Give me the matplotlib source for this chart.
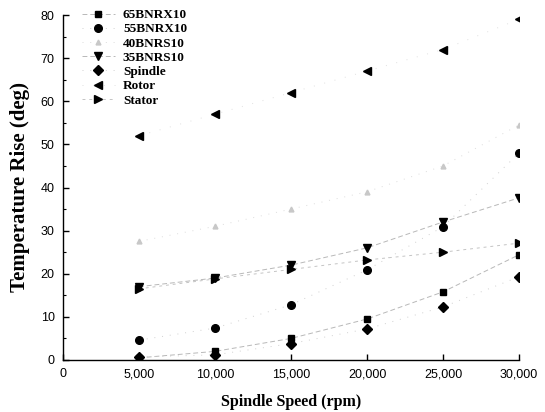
import matplotlib
matplotlib.use("Agg")
import matplotlib.pyplot as plt
from matplotlib.ticker import MultipleLocator, FuncFormatter

speed = [5000, 10000, 15000, 20000, 25000, 30000]
s65BNRX10 = [0.5, 2.0, 5.0, 9.5, 15.8, 24.4]
s55BNRX10 = [4.6, 7.4, 12.8, 20.9, 30.9, 48.0]
s40BNRS10 = [27.5, 31.0, 35.0, 39.0, 45.0, 54.5]
s35BNRS10 = [17.0, 19.0, 22.0, 26.0, 32.0, 37.6]
spindle = [0.7, 1.2, 3.8, 7.2, 12.3, 19.3]
rotor = [52.0, 57.0, 62.0, 67.0, 72.0, 79.0]
stator = [16.5, 18.8, 21.0, 23.2, 25.0, 27.1]

series = [
    ("65BNRX10", s65BNRX10, "s", "black", (0, (5, 3)), "#b8b8b8", 5),
    ("55BNRX10", s55BNRX10, "o", "black", (0, (1, 7)), "#d0d0d0", 5.5),
    ("40BNRS10", s40BNRS10, "^", "#c8c8c8", (0, (1, 7)), "#dcdcdc", 3.5),
    ("35BNRS10", s35BNRS10, "v", "black", (0, (5, 3)), "#b8b8b8", 6),
    ("Spindle", spindle, "D", "black", (0, (1, 7)), "#d0d0d0", 5),
    ("Rotor", rotor, "<", "black", (0, (1, 10)), "#e0e0e0", 6),
    ("Stator", stator, ">", "black", (0, (3, 4)), "#c4c4c4", 6),
]

fig = plt.figure(figsize=(5.45, 4.12), dpi=100)
ax = fig.add_axes([63/545, 1-360/412, (519-63)/545, (360-15)/412])

for name, vals, mk, col, ls, lc, ms in series:
    ax.plot(speed, vals, linestyle=ls, color=lc, linewidth=0.7,
            marker=mk, markersize=ms, markerfacecolor=col,
            markeredgecolor=col, label=name)

ax.set_xlim(0, 30000)
ax.set_ylim(0, 80)
ax.xaxis.set_major_locator(MultipleLocator(5000))
ax.yaxis.set_major_locator(MultipleLocator(10))
ax.yaxis.set_minor_locator(MultipleLocator(5))
ax.xaxis.set_major_formatter(FuncFormatter(lambda v, p: f"{int(v):,}"))
ax.spines["top"].set_visible(False)
ax.spines["right"].set_visible(False)
ax.spines["left"].set_linewidth(1.0)
ax.spines["bottom"].set_linewidth(1.0)
ax.tick_params(which="major", direction="in", length=4, width=1,
               labelsize=9, pad=6)
ax.tick_params(which="minor", direction="in", length=2, width=0.8)
for lab in ax.get_xticklabels() + ax.get_yticklabels():
    lab.set_family("Liberation Sans")

ax.set_xlabel("Spindle Speed (rpm)", family="Liberation Serif",
              fontweight="bold", fontsize=11.5, labelpad=10)
ax.set_ylabel("Temperature Rise (deg)", family="Liberation Serif",
              fontweight="bold", fontsize=15, labelpad=8)

leg = ax.legend(loc="upper left", bbox_to_anchor=(82/545, 1-9/412),
                bbox_transform=fig.transFigure, frameon=False,
                prop={"family": "Liberation Serif", "weight": "bold",
                      "size": 9.5},
                handlelength=2.5, handletextpad=0.6, labelspacing=0.15,
                borderpad=0, borderaxespad=0)

fig.savefig("out.png", dpi=100)
